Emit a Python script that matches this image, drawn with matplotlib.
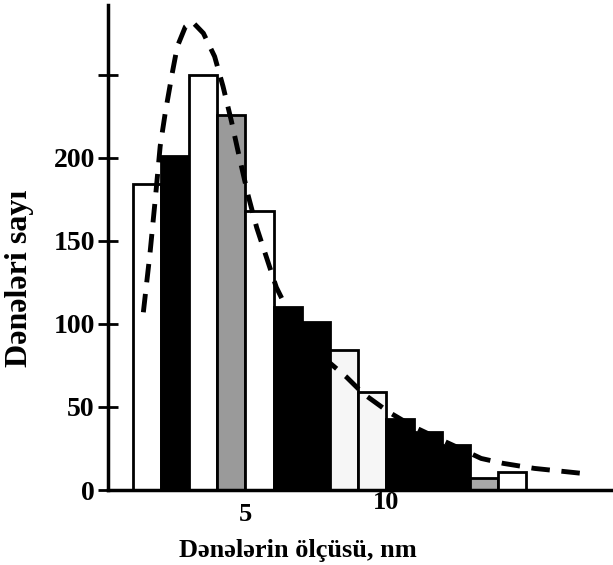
import numpy as np
import matplotlib
matplotlib.use("Agg")
import matplotlib.pyplot as plt
from matplotlib import transforms

# histogram of grain sizes (1 nm bins)
bin_left = [1, 2, 3, 4, 5, 6, 7, 8, 9, 10, 11, 12, 13, 14]
counts = [184, 201, 250, 226, 168, 110, 101, 84, 59, 43, 35, 27, 7, 11]
bar_colors = ['white', 'black', 'white', '#9a9a9a', 'white', 'black', 'black',
              '#f6f6f6', '#f6f6f6', 'black', 'black', 'black', '#a8a8a8', 'white']

# fitted distribution curve
curve_x = [1.36, 1.6, 1.79, 1.96, 2.14, 2.39, 2.57, 2.86, 3.1, 3.5, 3.9, 4.2, 4.5,
           4.8, 5.1, 5.4, 5.75, 6.1, 6.6, 7.2, 7.9, 8.6, 9.2, 10.1, 11.0, 12.0,
           12.9, 13.4, 14.2, 15.3, 17.0]
curve_y = [107, 143, 176, 207, 227, 251, 267, 279, 282, 275, 261, 243, 222,
           199, 177, 158, 140, 122, 105, 90, 78, 68, 58, 47, 38, 30,
           23, 19, 16, 13, 10]

yticks = [0, 50, 100, 150, 200, 250]
ytick_labels = ['0', '50', '100', '150', '200', '']
xticks = [5, 10]
xtick_labels = ['5', '10']

plt.rcParams['font.family'] = ['Liberation Serif', 'DejaVu Serif']

fig = plt.figure(figsize=(6.13, 5.65), dpi=100)
ax = fig.add_axes([108 / 613, 75 / 565, 1 - 108 / 613, 485 / 565])

ax.bar(bin_left, counts, width=1.0, align='edge', color=bar_colors,
       edgecolor='black', linewidth=2, zorder=2)
ax.plot(curve_x, curve_y, color='black', linewidth=3.5, linestyle=(0, (3.8, 2.4)),
        zorder=3)

ax.set_xlim(0.1, 18.1)
ax.set_ylim(0, 292)

for side in ['top', 'right']:
    ax.spines[side].set_visible(False)
ax.spines['left'].set_linewidth(2.5)
ax.spines['bottom'].set_linewidth(2.5)

ax.set_yticks(yticks)
ax.set_yticklabels(ytick_labels, fontsize=20, fontweight='bold')
ax.tick_params(axis='y', direction='inout', length=15, width=2, pad=2)

ax.set_xticks(xticks)
ax.set_xticklabels(xtick_labels, fontsize=19, fontweight='bold')
ax.tick_params(axis='x', length=0, pad=1)
# the "5" sits a bit lower than the "10" in the original
lbl5 = ax.get_xticklabels()[0]
lbl5.set_transform(lbl5.get_transform() + transforms.ScaledTranslation(0, -12 / 100, fig.dpi_scale_trans))

ax.set_ylabel('Dənələri sayı', fontsize=23, fontweight='bold')
ax.yaxis.set_label_coords(-0.147, 0.437)
ax.set_xlabel('Dənələrin ölçüsü, nm', fontsize=19, fontweight='bold')
ax.xaxis.set_label_coords((298 - 108) / 505, -0.1)

fig.savefig('out.png', dpi=100)
